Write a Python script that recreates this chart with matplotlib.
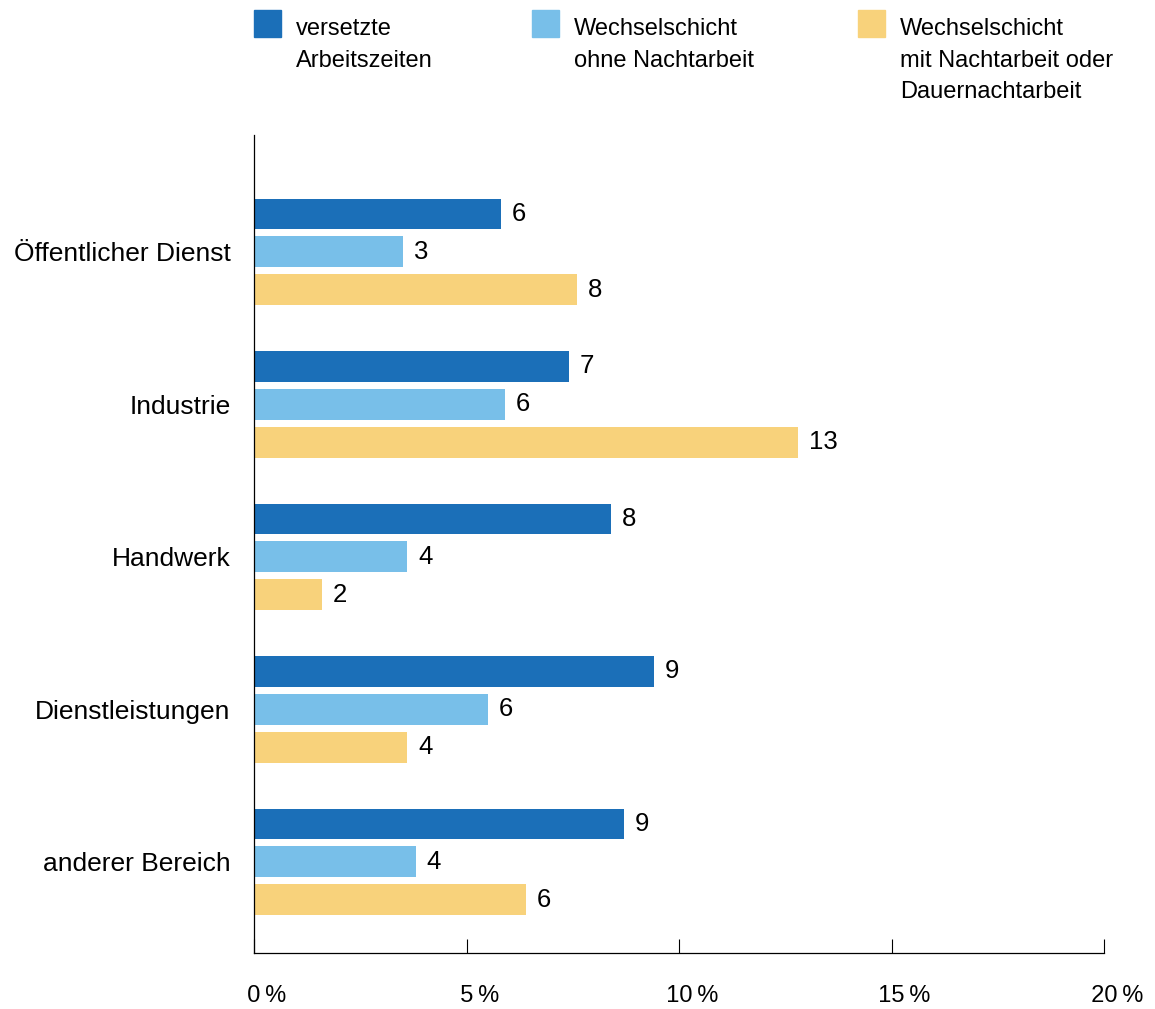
import matplotlib.pyplot as plt
from matplotlib.patches import Rectangle
import numpy as np

plt.rcParams['font.family'] = ['Liberation Sans', 'DejaVu Sans']

categories = ['Öffentlicher Dienst', 'Industrie', 'Handwerk', 'Dienstleistungen', 'anderer Bereich']
series_names = ['versetzte\nArbeitszeiten', 'Wechselschicht\nohne Nachtarbeit',
                'Wechselschicht\nmit Nachtarbeit oder\nDauernachtarbeit']
versetzt = [5.8, 7.4, 8.4, 9.4, 8.7]
ohne_nacht = [3.5, 5.9, 3.6, 5.5, 3.8]
mit_nacht = [7.6, 12.8, 1.6, 3.6, 6.4]
versetzt_lbl = ['6', '7', '8', '9', '9']
ohne_nacht_lbl = ['3', '6', '4', '6', '4']
mit_nacht_lbl = ['8', '13', '2', '4', '6']
xticks = [0, 5, 10, 15, 20]
xticklabels = ['0', '5', '10', '15', '20']

colors = ['#1b6fb8', '#78bfe9', '#f8d27b']

fig = plt.figure(figsize=(11.55, 10.09), dpi=100)
ax = fig.add_axes([254/1155, 56/1009, 850/1155, 818/1009])

y = np.arange(len(categories))
h = 0.203
off = 0.249
for vals, lbls, c, d in zip([versetzt, ohne_nacht, mit_nacht],
                            [versetzt_lbl, ohne_nacht_lbl, mit_nacht_lbl],
                            colors, [-off, 0, off]):
    ax.barh(y + d, vals, height=h, color=c)
    for yy, v, l in zip(y + d, vals, lbls):
        ax.annotate(l, (v, yy), xytext=(8, 0), textcoords='offset points',
                    va='center', ha='left', fontsize=18.5)

ax.set_xlim(0, 20)
ax.set_ylim(4.597, -0.767)
ax.set_yticks(y)
ax.set_yticklabels(categories, fontsize=19)
ax.tick_params(axis='y', length=0, pad=17)
# number sits centred on the tick, the % sign hangs to the right
# (leading figure spaces balance the trailing thin space + %)
ax.set_xticks(xticks)
ax.set_xticklabels(['\u2007\u2007' + t + '\u2009%' for t in xticklabels], fontsize=17)
ax.tick_params(axis='x', direction='in', length=10, width=0.8, pad=23)
for s in ['top', 'right']:
    ax.spines[s].set_visible(False)
for s in ['left', 'bottom']:
    ax.spines[s].set_linewidth(0.9)

# legend drawn by hand so the squares sit at the top of each text block
leg_x = [254, 532, 858]
for lx, name, c in zip(leg_x, series_names, colors):
    fig.add_artist(Rectangle((lx/1155, 1 - 37/1009), 27/1155, 27/1009,
                             transform=fig.transFigure, color=c))
    fig.text((lx + 42)/1155, 1 - 18/1009, name, fontsize=17, va='top', ha='left',
             linespacing=1.57)

fig.savefig('out.png', dpi=100)
